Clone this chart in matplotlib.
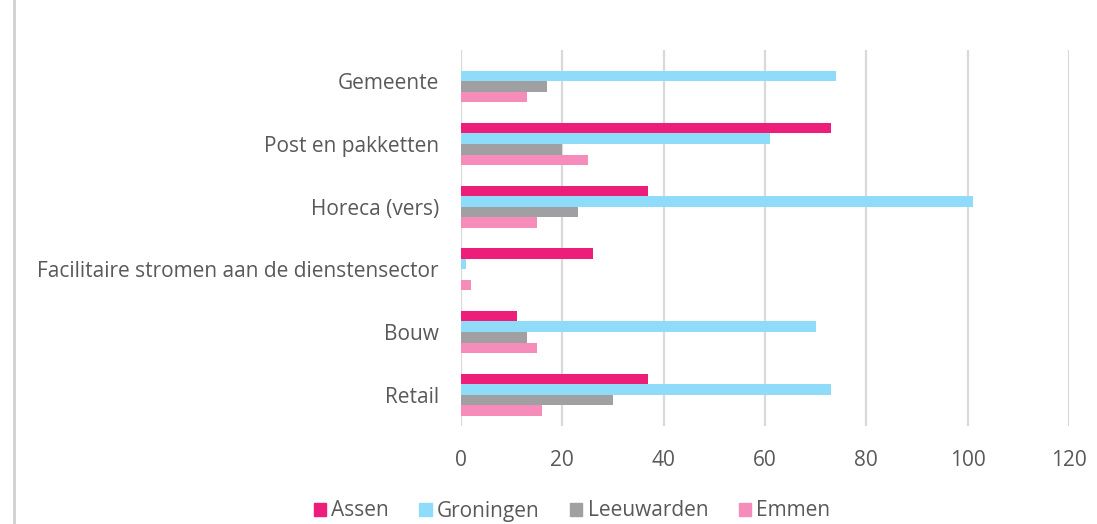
import numpy as np
import matplotlib.pyplot as plt
from matplotlib.lines import Line2D

categories = ["Gemeente", "Post en pakketten", "Horeca (vers)",
              "Facilitaire stromen aan de dienstensector", "Bouw", "Retail"]
series = ["Assen", "Groningen", "Leeuwarden", "Emmen"]
assen = [0, 73, 37, 26, 11, 37]
groningen = [74, 61, 101, 1, 70, 73]
leeuwarden = [17, 20, 23, 0, 13, 30]
emmen = [13, 25, 15, 2, 15, 16]
ticks = [0, 20, 40, 60, 80, 100, 120]

colors = ["#ED1E79", "#8FDCFA", "#A0A0A2", "#F58CBA"]
text_color = "#595959"

plt.rcParams['font.family'] = ['Open Sans', 'DejaVu Sans']

fig = plt.figure(figsize=(10.97, 5.24), dpi=100)
ax = fig.add_axes([461 / 1097, 1 - 426 / 524, (1069 - 461) / 1097, 376 / 524])

n = len(series)
bar_h = 0.168
y = np.arange(len(categories))
for i, (vals, c) in enumerate(zip([assen, groningen, leeuwarden, emmen], colors)):
    offs = (i - (n - 1) / 2) * bar_h
    ax.barh(y + offs, vals, height=bar_h, color=c, zorder=3)

ax.set_ylim(len(categories) - 0.5, -0.5)
ax.set_xlim(0, 120)
ax.set_xticks(ticks)
ax.set_xticklabels([str(t) for t in ticks])
ax.set_yticks(y)
ax.set_yticklabels(categories)
ax.tick_params(axis='both', length=0, colors=text_color, labelsize=15)
ax.tick_params(axis='x', pad=17)
ax.tick_params(axis='y', pad=16)
ax.grid(axis='x', color="#D9D9D9", linewidth=1.6, zorder=0)
for s in ax.spines.values():
    s.set_visible(False)

# outer frame edge on the left
fig.add_artist(Line2D([14 / 1097, 14 / 1097], [0, 1], color="#D0D0D0", linewidth=2))

handles = [plt.Rectangle((0, 0), 1, 1, color=c) for c in colors]
fig.legend(handles, series, loc='center', bbox_to_anchor=(572 / 1097, 1 - 511 / 524),
           ncol=4, frameon=False, fontsize=15, handlelength=0.6, handleheight=0.6,
           handletextpad=0.25, columnspacing=1.45, labelcolor=text_color)

fig.savefig("out.png", dpi=100)
